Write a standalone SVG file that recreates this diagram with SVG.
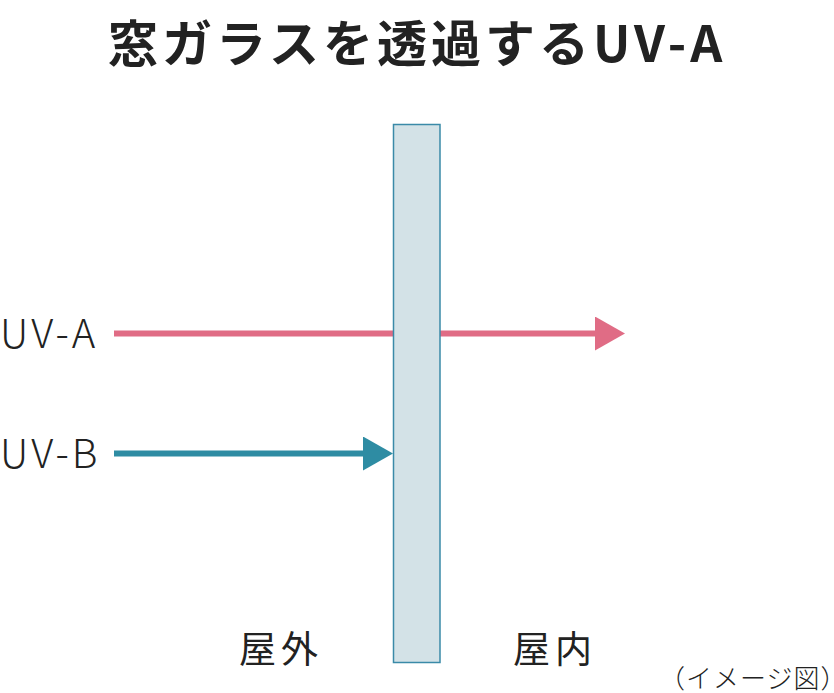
<svg xmlns="http://www.w3.org/2000/svg" width="834" height="693" viewBox="0 0 834 693">
<style>
.t{font-family:"Noto Sans CJK JP","Noto Sans",sans-serif;fill:#222}
.lbl{font-size:40px;font-weight:300;letter-spacing:3px}
.jp{font-size:37px;font-weight:400;letter-spacing:5px}
</style>
<defs>
<marker id="ha" viewBox="0 0 30 34" refX="0" refY="17" markerWidth="30" markerHeight="34" markerUnits="userSpaceOnUse" orient="auto"><path d="M0,0 L30,17 L0,34 Z" fill="#e06c85"/></marker>
<marker id="hb" viewBox="0 0 30 34" refX="0" refY="17" markerWidth="30" markerHeight="34" markerUnits="userSpaceOnUse" orient="auto"><path d="M0,0 L30,17 L0,34 Z" fill="#2e8ca3"/></marker>
</defs>
<rect width="834" height="693" fill="#fff"/>
<text class="t" x="108" y="62" font-size="50" font-weight="700" letter-spacing="4">窓ガラスを透過するUV-A</text>
<g id="connectors">
<line id="uva" x1="114" y1="333.5" x2="595" y2="333.5" stroke="#e06c85" stroke-width="6" marker-end="url(#ha)"/>
<line id="uvb" x1="114" y1="453.5" x2="363" y2="453.5" stroke="#2e8ca3" stroke-width="6" marker-end="url(#hb)"/>
</g>
<g id="glass"><rect x="393.5" y="124.5" width="46.5" height="538" fill="#d3e2e7" stroke="#3a8aa8" stroke-width="1.5"/></g>
<g id="label-uva"><text class="t lbl" x="0" y="348">UV-A</text></g>
<g id="label-uvb"><text class="t lbl" x="0" y="468">UV-B</text></g>
<g id="outside"><text class="t jp" x="239" y="663">屋外</text></g>
<g id="inside"><text class="t jp" x="513" y="663">屋内</text></g>
<text class="t" x="659" y="688" font-size="26" font-weight="300" letter-spacing="1">（イメージ図）</text>
</svg>
